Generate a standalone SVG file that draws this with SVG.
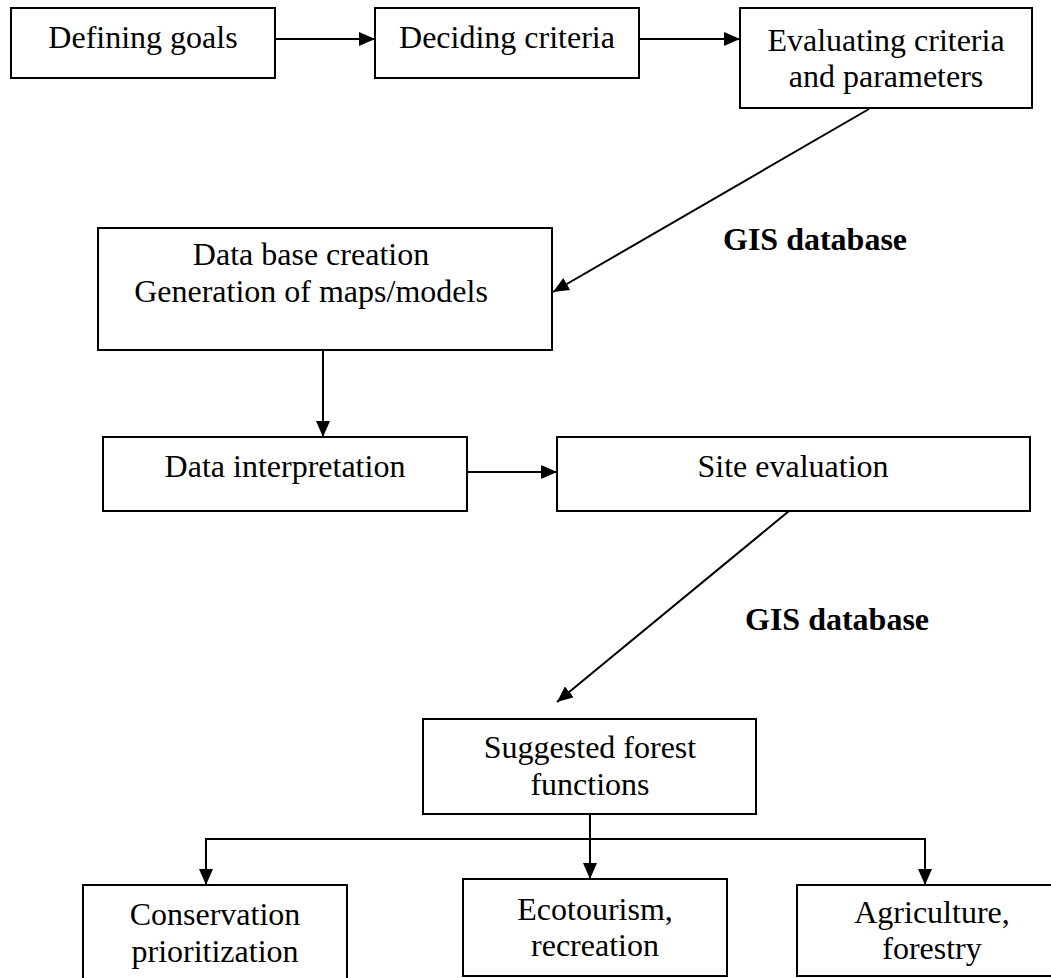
<svg xmlns="http://www.w3.org/2000/svg" width="1051" height="978" viewBox="0 0 1051 978">
  <style>
    .box { fill: #ffffff; stroke: #000000; stroke-width: 2; }
    .lbl { font-family: "Liberation Serif", "Times New Roman", serif; font-size: 32px; fill: #000000; text-anchor: middle; }
    .gis { font-family: "Liberation Serif", "Times New Roman", serif; font-size: 32px; font-weight: bold; fill: #000000; }
    .edge { fill: none; stroke: #000000; stroke-width: 2; }
  </style>
  <defs>
    <marker id="arrow" markerUnits="userSpaceOnUse" markerWidth="17" markerHeight="14" refX="16" refY="7" orient="auto">
      <path d="M0,0 L16,7 L0,14 Z" fill="#000000"/>
    </marker>
  </defs>
  <rect width="1051" height="978" fill="#ffffff"/>

  <g id="connectors">
    <line class="edge" x1="275" y1="39" x2="375" y2="39" marker-end="url(#arrow)"/>
    <line class="edge" x1="639" y1="39" x2="740" y2="39" marker-end="url(#arrow)"/>
    <line class="edge" x1="869" y1="109" x2="553" y2="292" marker-end="url(#arrow)"/>
    <line class="edge" x1="323" y1="351" x2="323" y2="437" marker-end="url(#arrow)"/>
    <line class="edge" x1="467" y1="472" x2="557" y2="472" marker-end="url(#arrow)"/>
    <line class="edge" x1="789" y1="511" x2="557" y2="702" marker-end="url(#arrow)"/>
    <line class="edge" x1="590" y1="814" x2="590" y2="879" marker-end="url(#arrow)"/>
    <!-- branch bar feeding the three function boxes -->
    <line class="edge" x1="205" y1="839" x2="926" y2="839"/>
    <line class="edge" x1="206" y1="839" x2="206" y2="885" marker-end="url(#arrow)"/>
    <line class="edge" x1="925" y1="839" x2="925" y2="885" marker-end="url(#arrow)"/>
  </g>

  <g id="defining-goals">
    <rect class="box" x="11" y="8" width="264" height="70"/>
    <text class="lbl" x="143" y="48">Defining goals</text>
  </g>

  <g id="deciding-criteria">
    <rect class="box" x="375" y="8" width="264" height="70"/>
    <text class="lbl" x="507" y="48">Deciding criteria</text>
  </g>

  <g id="evaluating-criteria">
    <rect class="box" x="740" y="8" width="292" height="100"/>
    <text class="lbl" x="886" y="51">Evaluating criteria</text>
    <text class="lbl" x="886" y="87">and parameters</text>
  </g>

  <g id="gis-label-1">
    <text class="gis" x="723" y="250">GIS database</text>
  </g>

  <g id="database-creation">
    <rect class="box" x="98" y="228" width="454" height="122"/>
    <text class="lbl" x="311" y="265">Data base creation</text>
    <text class="lbl" x="311" y="302">Generation of maps/models</text>
  </g>

  <g id="data-interpretation">
    <rect class="box" x="103" y="437" width="364" height="74"/>
    <text class="lbl" x="285" y="477">Data interpretation</text>
  </g>

  <g id="site-evaluation">
    <rect class="box" x="557" y="437" width="473" height="74"/>
    <text class="lbl" x="793" y="477">Site evaluation</text>
  </g>

  <g id="gis-label-2">
    <text class="gis" x="745" y="630">GIS database</text>
  </g>

  <g id="forest-functions">
    <rect class="box" x="423" y="719" width="333" height="95"/>
    <text class="lbl" x="590" y="758">Suggested forest</text>
    <text class="lbl" x="590" y="795">functions</text>
  </g>

  <g id="conservation">
    <rect class="box" x="83" y="885" width="264" height="110"/>
    <text class="lbl" x="215" y="925">Conservation</text>
    <text class="lbl" x="215" y="962">prioritization</text>
  </g>

  <g id="ecotourism">
    <rect class="box" x="463" y="879" width="264" height="97"/>
    <text class="lbl" x="595" y="920">Ecotourism,</text>
    <text class="lbl" x="595" y="956">recreation</text>
  </g>

  <g id="agriculture">
    <rect class="box" x="797" y="885" width="270" height="91"/>
    <text class="lbl" x="932" y="923">Agriculture,</text>
    <text class="lbl" x="932" y="959">forestry</text>
  </g>
</svg>
